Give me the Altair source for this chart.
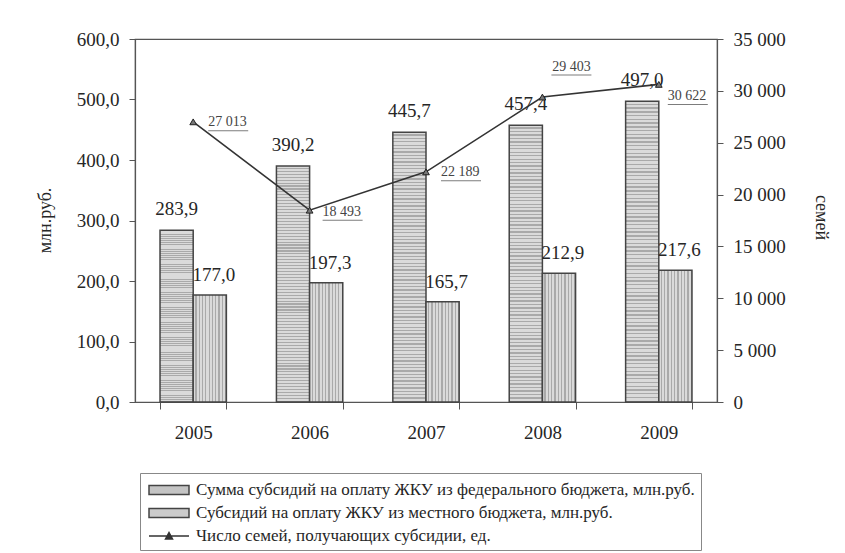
import altair as alt
import pandas as pd

years = ["2005", "2006", "2007", "2008", "2009"]
federal = [283.9, 390.2, 445.7, 457.4, 497.0]
local = [177.0, 197.3, 165.7, 212.9, 217.6]
families = [27013, 18493, 22189, 29403, 30622]
series_names = [
    "Сумма субсидий на оплату ЖКУ из федерального бюджета, млн.руб.",
    "Субсидий на оплату ЖКУ из местного бюджета, млн.руб.",
    "Число семей, получающих субсидии, ед.",
]
left_ticks = [0, 100, 200, 300, 400, 500, 600]
right_ticks = [0, 5000, 10000, 15000, 20000, 25000, 30000, 35000]
left_title = "млн.руб."
right_title = "семей"

FONT = "'Liberation Serif', 'Times New Roman', 'DejaVu Serif', serif"
TXT = "#262626"

bars_df = pd.DataFrame({
    "year": years * 2,
    "series": [series_names[0]] * len(years) + [series_names[1]] * len(years),
    "value": federal + local,
})
line_df = pd.DataFrame({"year": years, "families": families})
legend_df = pd.DataFrame({"series": series_names})


def stripes(n, horizontal):
    """Striped fill (style only): alternating light / darker bands."""
    stops = []
    for i in range(n):
        a, b, c = i / n, (i + 0.62) / n, (i + 1) / n
        stops += [
            {"offset": a, "color": "#dadada"},
            {"offset": b, "color": "#dadada"},
            {"offset": b, "color": "#a9a9a9"},
            {"offset": c, "color": "#a9a9a9"},
        ]
    if horizontal:
        return {"gradient": "linear", "x1": 0, "y1": 0, "x2": 0, "y2": 1, "stops": stops}
    return {"gradient": "linear", "x1": 0, "y1": 0, "x2": 1, "y2": 0, "stops": stops}


x_enc = alt.X(
    "year:N",
    sort=years,
    scale=alt.Scale(paddingInner=0.43, paddingOuter=0.215),
    axis=alt.Axis(
        title=None, labelAngle=0, tickBand="extent", tickSize=7,
        labelPadding=14, labelFont=FONT, labelFontSize=19, labelColor=TXT,
        domainColor="#555", tickColor="#555", domainWidth=1.2,
    ),
)

left_axis = alt.Axis(
    values=left_ticks, grid=False, orient="left",
    labelExpr="replace(format(datum.value, '.1f'), '.', ',')",
    labelFont=FONT, labelFontSize=19, labelColor=TXT, labelPadding=10,
    tickSize=6, tickColor="#555", domainColor="#555", domainWidth=1.2,
    title=left_title, titleFont=FONT, titleFontSize=18, titleFontWeight="normal",
    titleColor=TXT, titleAngle=-90, titleX=-90, titleY=181,
    titleAlign="center", titleBaseline="middle",
)
right_axis = alt.Axis(
    values=right_ticks, grid=False, orient="right",
    labelExpr="datum.value == 0 ? '0' : replace(format(datum.value, ','), ',', ' ')",
    labelFont=FONT, labelFontSize=19, labelColor=TXT, labelPadding=10,
    tickSize=6, tickColor="#555", domainColor="#555", domainWidth=1.2,
    title=right_title, titleFont=FONT, titleFontSize=18, titleFontWeight="normal",
    titleColor=TXT, titleAngle=90, titleX=103, titleY=178,
    titleAlign="center", titleBaseline="middle",
)

legend = alt.Legend(
    title=None, orient="none", legendX=5, legendY=434, direction="vertical",
    labelFont=FONT, labelFontSize=17, labelColor=TXT, labelLimit=800,
    strokeColor="#888", padding=6, rowPadding=4, labelOffset=16, symbolOffset=12,
    symbolSize=400, symbolOpacity=1, symbolStrokeWidth=1.5,
)

fill_scale = alt.Scale(domain=series_names, range=["#c4c4c4", "#cbcbcb", "#333333"])
stroke_scale = alt.Scale(domain=series_names, range=["#444444", "#444444", "#333333"])
shape_scale = alt.Scale(
    domain=series_names,
    range=[
        "M-2,-0.45H2V0.45H-2Z",
        "M-2,-0.45H2V0.45H-2Z",
        "M-2,0H2M-0.35,0.3L0,-0.35L0.35,0.3Z",
    ],
)

bar_base = alt.Chart(bars_df).encode(
    x=x_enc,
    xOffset=alt.XOffset("series:N", sort=series_names[:2], scale=alt.Scale(domain=series_names[:2])),
    y=alt.Y("value:Q", scale=alt.Scale(domain=[0, 600], nice=False), axis=left_axis),
)
fed_bars = bar_base.transform_filter(
    alt.datum.series == series_names[0]
).mark_bar(fill=stripes(80, True), stroke="#444", strokeWidth=1.5)
loc_bars = bar_base.transform_filter(
    alt.datum.series == series_names[1]
).mark_bar(fill=stripes(10, False), stroke="#444", strokeWidth=1.5)

fed_labels = bar_base.transform_filter(
    alt.datum.series == series_names[0]
).transform_calculate(
    lab="replace(format(datum.value, '.1f'), '.', ',')"
).mark_text(font=FONT, fontSize=19, color=TXT, baseline="alphabetic", dy=-15).encode(text="lab:N")
loc_labels = bar_base.transform_filter(
    alt.datum.series == series_names[1]
).transform_calculate(
    lab="replace(format(datum.value, '.1f'), '.', ',')"
).mark_text(font=FONT, fontSize=19, color=TXT, baseline="alphabetic", dy=-14, dx=4).encode(text="lab:N")

legend_layer = alt.Chart(legend_df).mark_point(opacity=0, strokeWidth=1.5).encode(
    fill=alt.Fill("series:N", scale=fill_scale, legend=legend),
    stroke=alt.Stroke("series:N", scale=stroke_scale, legend=legend),
    shape=alt.Shape("series:N", scale=shape_scale, legend=legend),
)

bar_group = alt.layer(fed_bars, loc_bars, fed_labels, loc_labels, legend_layer)

line_base = alt.Chart(line_df).encode(
    x=x_enc,
    y=alt.Y("families:Q", scale=alt.Scale(domain=[0, 35000], nice=False), axis=right_axis),
).transform_calculate(
    lab="replace(format(datum.families, ','), ',', ' ')"
)
line = line_base.mark_line(color="#333", strokeWidth=1.6)
points = line_base.mark_point(shape="triangle-up", size=45, filled=True, fill="#777", stroke="#222", strokeWidth=1, opacity=1)

lab_style = dict(font=FONT, fontSize=14, color="#444")
g1 = alt.FieldOneOfPredicate(field="year", oneOf=["2005", "2007"])
g2 = alt.FieldEqualPredicate(field="year", equal="2006")
g3 = alt.FieldEqualPredicate(field="year", equal="2008")
g4 = alt.FieldEqualPredicate(field="year", equal="2009")

t1 = line_base.transform_filter(g1).mark_text(align="left", baseline="middle", dx=15, dy=0, **lab_style).encode(text="lab:N")
u1 = line_base.transform_filter(g1).mark_tick(orient="horizontal", size=40, thickness=1, color="#444", xOffset=35, yOffset=9)
t2 = line_base.transform_filter(g2).mark_text(align="left", baseline="middle", dx=13, dy=2, **lab_style).encode(text="lab:N")
u2 = line_base.transform_filter(g2).mark_tick(orient="horizontal", size=40, thickness=1, color="#444", xOffset=33, yOffset=10)
t3 = line_base.transform_filter(g3).mark_text(align="center", baseline="middle", dx=29, dy=-30, **lab_style).encode(text="lab:N")
u3 = line_base.transform_filter(g3).mark_tick(orient="horizontal", size=40, thickness=1, color="#444", xOffset=29, yOffset=-22)
t4 = line_base.transform_filter(g4).mark_text(align="left", baseline="middle", dx=9, dy=12, **lab_style).encode(text="lab:N")
u4 = line_base.transform_filter(g4).mark_tick(orient="horizontal", size=40, thickness=1, color="#444", xOffset=29, yOffset=20)

line_group = alt.layer(line, points, t1, u1, t2, u2, t3, u3, t4, u4)

chart = alt.layer(bar_group, line_group).resolve_scale(
    y="independent"
).properties(
    width=582, height=363,
    padding={"left": 127, "top": 31, "right": 120, "bottom": 152},
    autosize=alt.AutoSizeParams(type="none"),
    background="white",
).configure_view(
    stroke="#555", strokeWidth=1.2
)

chart.save("out.html", embed_options={"renderer": "svg", "actions": False})
